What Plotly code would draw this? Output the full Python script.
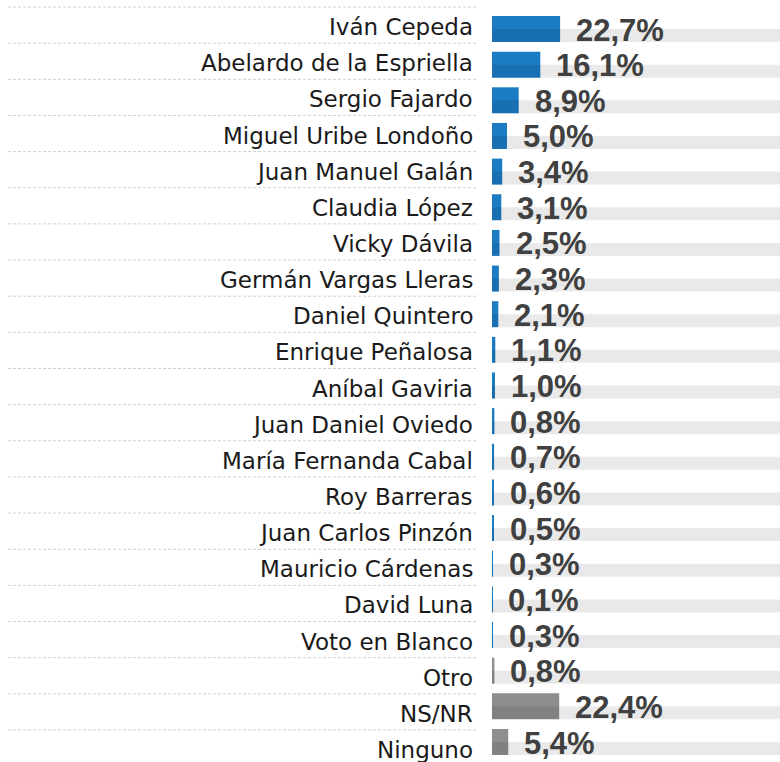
import plotly.graph_objects as go

candidates = ["Iván Cepeda", "Abelardo de la Espriella", "Sergio Fajardo", "Miguel Uribe Londoño",
              "Juan Manuel Galán", "Claudia López", "Vicky Dávila", "Germán Vargas Lleras",
              "Daniel Quintero", "Enrique Peñalosa", "Aníbal Gaviria", "Juan Daniel Oviedo",
              "María Fernanda Cabal", "Roy Barreras", "Juan Carlos Pinzón", "Mauricio Cárdenas",
              "David Luna", "Voto en Blanco", "Otro", "NS/NR", "Ninguno"]
values = [22.7, 16.1, 8.9, 5.0, 3.4, 3.1, 2.5, 2.3, 2.1, 1.1, 1.0, 0.8, 0.7, 0.6, 0.5, 0.3,
          0.1, 0.3, 0.8, 22.4, 5.4]
value_labels = ["22,7%", "16,1%", "8,9%", "5,0%", "3,4%", "3,1%", "2,5%", "2,3%", "2,1%", "1,1%",
                "1,0%", "0,8%", "0,7%", "0,6%", "0,5%", "0,3%", "0,1%", "0,3%", "0,8%", "22,4%", "5,4%"]
groups = ["cand"] * 18 + ["other"] * 3
track_max = 100

BLUE = "#1b7bc3"
GREY = "#8e8e8e"
colors = [BLUE if g == "cand" else GREY for g in groups]
rows = list(range(len(candidates)))

fig = go.Figure()
fig.add_trace(go.Bar(
    orientation="h", y=rows, x=values, yaxis="y2", width=0.7293,
    marker=dict(color=colors, line=dict(width=0)), hoverinfo="skip", showlegend=False))
fig.add_trace(go.Bar(
    orientation="h", y=rows, x=[track_max] * len(rows), yaxis="y2", width=0.3647, offset=0,
    marker=dict(color="rgba(0,0,0,0.085)", line=dict(width=0)), hoverinfo="skip", showlegend=False))

annotations = []
for r, name in zip(rows, candidates):
    annotations.append(dict(
        x=0, y=r, xref="x", yref="y", text=name, showarrow=False, xanchor="right",
        yanchor="middle", xshift=-17, yshift=-2,
        font=dict(family="DejaVu Sans", size=23, color="#1a1a1a")))
for r, v, t in zip(rows, values, value_labels):
    annotations.append(dict(
        x=v, y=r, xref="x", yref="y2", text="<b>" + t + "</b>", showarrow=False,
        xanchor="left", yanchor="middle", xshift=14, yshift=-1,
        font=dict(family="Liberation Sans", size=31, color="#404040")))

shapes = []
for r in rows:
    shapes.append(dict(
        type="line", xref="x", yref="y", x0=-161.3, x1=-5.3, y0=r - 0.5, y1=r - 0.5,
        line=dict(color="#cfcfcf", width=1, dash="3px,2px"), layer="below"))

fig.update_layout(
    width=780, height=762, margin=dict(l=0, r=0, t=0, b=0),
    paper_bgcolor="white", plot_bgcolor="white", barmode="overlay",
    xaxis=dict(range=[-164, 96], visible=False, fixedrange=True),
    yaxis=dict(range=[20.3854, -0.6936], visible=False, fixedrange=True),
    yaxis2=dict(range=[20.5609, -0.8135], visible=False, overlaying="y", fixedrange=True),
    annotations=annotations, shapes=shapes, showlegend=False)

fig.write_html("out.html", config={"displayModeBar": False},
               post_script="document.body.style.margin='0';document.body.style.overflow='hidden';")
